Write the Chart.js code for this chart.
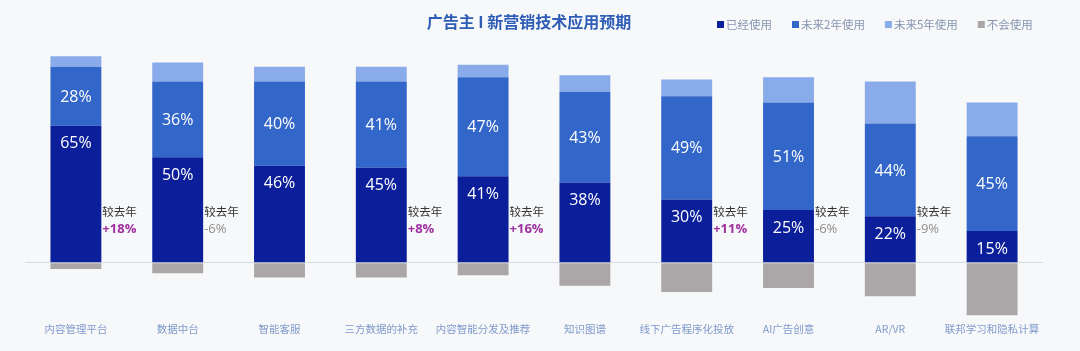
<!DOCTYPE html>
<html>
<head>
<meta charset="utf-8">
<script src="https://cdn.jsdelivr.net/npm/chart.js@4.4.1/dist/chart.umd.min.js"></script>
<style>
  html, body { margin: 0; padding: 0; background: #f7f8fa; }
  #wrap { position: relative; width: 1080px; height: 351px; }
</style>
</head>
<body>
<div id="wrap"><canvas id="c"></canvas></div>
<script>
const titleText = '广告主 I 新营销技术应用预期';
const categories = ['内容管理平台', '数据中台', '智能客服', '三方数据的补充', '内容智能分发及推荐', '知识图谱', '线下广告程序化投放', 'AI广告创意', 'AR/VR', '联邦学习和隐私计算'];
const seriesNames = ['已经使用', '未来2年使用', '未来5年使用', '不会使用'];
const usedNow = [65, 50, 46, 45, 41, 38, 30, 25, 22, 15];
const within2Years = [28, 36, 40, 41, 47, 43, 49, 51, 44, 45];
const within5Years = [5, 9, 7, 7, 6, 8, 8, 12, 20, 16];
const neverUse = [3, 5, 7, 7, 6, 11, 14, 12, 16, 25];
const yoyLabel = '较去年';
const yoyChange = ['+18%', '-6%', null, '+8%', '+16%', null, '+11%', '-6%', '-9%', null];

const colors = ['#0c1f9b', '#3366c9', '#8aabea', '#aba7a8'];
const FONT = '"Open Sans", "Noto Sans CJK SC", sans-serif';
const CJK = '"Noto Sans CJK SC", sans-serif';

const overlay = {
  id: 'overlay',
  afterDatasetsDraw(chart) {
    const ctx = chart.ctx;
    const y = chart.scales.y;
    const m0 = chart.getDatasetMeta(0);
    const m1 = chart.getDatasetMeta(1);
    ctx.save();
    ctx.fillStyle = '#ffffff';
    ctx.font = '16px ' + FONT;
    ctx.textAlign = 'center';
    ctx.textBaseline = 'middle';
    m0.data.forEach((bar, i) => {
      ctx.fillText(usedNow[i] + '%', bar.x, bar.y + 18);
    });
    m1.data.forEach((bar, i) => {
      ctx.fillText(within2Years[i] + '%', bar.x, (bar.y + bar.base) / 2 + 1);
    });
    // year-over-year notes
    ctx.textAlign = 'left';
    m0.data.forEach((bar, i) => {
      if (!yoyChange[i]) return;
      const x = bar.x + bar.width / 2 + 1;
      ctx.fillStyle = '#333333';
      ctx.font = '11.5px ' + CJK;
      ctx.fillText(yoyLabel, x, y.getPixelForValue(24));
      const up = yoyChange[i].startsWith('+');
      ctx.fillStyle = up ? '#a0309f' : '#8e8e8e';
      ctx.font = (up ? 'bold ' : '') + '13px ' + FONT;
      ctx.fillText(yoyChange[i], x, y.getPixelForValue(16));
    });
    ctx.restore();
  },
  afterDraw(chart) {
    const ctx = chart.ctx;
    ctx.save();
    ctx.textBaseline = 'middle';
    ctx.textAlign = 'center';
    ctx.fillStyle = '#2f5cb6';
    ctx.font = 'bold 16px ' + CJK;
    ctx.fillText(titleText, 529, 22);
    // legend
    ctx.textAlign = 'left';
    ctx.font = '11.5px ' + CJK;
    let x = 717;
    chart.data.datasets.forEach((ds) => {
      ctx.fillStyle = ds.backgroundColor;
      ctx.fillRect(x, 21, 7, 7);
      x += 9;
      ctx.fillStyle = '#8795b0';
      ctx.fillText(ds.label, x, 24.5);
      x += ctx.measureText(ds.label).width + 20;
    });
    ctx.restore();
  }
};

new Chart(document.getElementById('c'), {
  type: 'bar',
  data: {
    labels: categories,
    datasets: [
      { label: seriesNames[0], data: usedNow, backgroundColor: colors[0] },
      { label: seriesNames[1], data: within2Years, backgroundColor: colors[1] },
      { label: seriesNames[2], data: within5Years, backgroundColor: colors[2] },
      { label: seriesNames[3], data: neverUse.map(v => -v), backgroundColor: colors[3] }
    ]
  },
  options: {
    responsive: true,
    maintainAspectRatio: false,
    animation: false,
    layout: { padding: { left: 25, right: 37, top: 52, bottom: 11 } },
    datasets: { bar: { barPercentage: 0.5, categoryPercentage: 1.0, borderWidth: 0 } },
    plugins: { legend: { display: false }, title: { display: false }, tooltip: { enabled: false } },
    scales: {
      x: {
        stacked: true,
        grid: { display: false, drawTicks: false },
        border: { display: false },
        ticks: { color: '#7f9acb', font: { family: CJK, size: 10.5 }, padding: 5, maxRotation: 0, autoSkip: false }
      },
      y: {
        stacked: true,
        min: -26,
        max: 100,
        border: { display: false },
        ticks: { display: false },
        grid: {
          drawTicks: false,
          color: (c) => c.tick && c.tick.value === 0 ? '#d6dae1' : 'rgba(0,0,0,0)',
          lineWidth: 1
        }
      }
    }
  },
  plugins: [overlay]
});
</script>
</body>
</html>
